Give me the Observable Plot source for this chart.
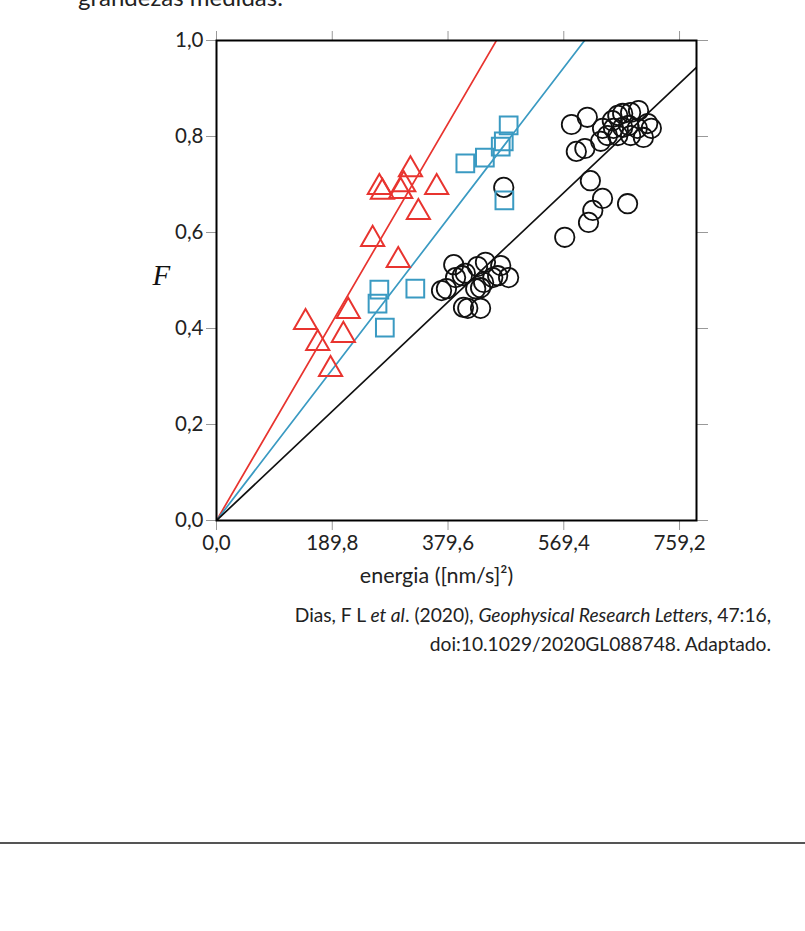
<!DOCTYPE html>
<html>
<head>
<meta charset="utf-8">
<script src="https://cdn.jsdelivr.net/npm/d3@7"></script>
<script src="https://cdn.jsdelivr.net/npm/@observablehq/plot@0.6"></script>
<style>
  html, body { margin: 0; padding: 0; background: #fff; }
  #wrap { position: relative; width: 805px; height: 931px; overflow: hidden; font-family: Lato, "Open Sans", sans-serif; color: #222; }
  #intro { position: absolute; left: 78px; top: -15px; font-size: 24px; line-height: 24px; white-space: nowrap; z-index: 2; }
  #chart { position: absolute; left: 0; top: 0; z-index: 1; }
  #caption { position: absolute; right: 34px; top: 600px; font-size: 19.2px; line-height: 29px; text-align: right; white-space: nowrap; z-index: 2; }
  #rule { position: absolute; left: 0; top: 842px; width: 805px; height: 2px; background: #555; }
</style>
</head>
<body>
<div id="wrap">
  <div id="chart"></div>
  <div id="intro">grandezas medidas.</div>
  <div id="caption">Dias, F L <i>et al</i>. (2020), <i>Geophysical Research Letters</i>, 47:16,<br>doi:10.1029/2020GL088748. Adaptado.</div>
  <div id="rule"></div>
</div>
<script>
// Triangles (red)
const triE = [146, 166, 187, 208, 216, 256, 267, 272, 298, 302, 307, 318, 331, 361];
const triF = [0.413, 0.369, 0.315, 0.386, 0.436, 0.586, 0.694, 0.684, 0.542, 0.686, 0.700, 0.731, 0.642, 0.694];
// Squares (blue)
const sqE = [264, 267, 276, 326, 408, 440, 466, 471, 479, 472];
const sqF = [0.452, 0.481, 0.402, 0.483, 0.744, 0.756, 0.779, 0.790, 0.823, 0.667];
// Circles (black)
const cirE = [582, 608, 590, 604, 630, 633, 649, 658, 666, 679, 692, 651, 666, 676, 690, 707, 713, 679, 700, 658, 641,
              613, 633, 617, 610, 674, 571, 471,
              389, 369, 377, 392, 403, 408, 428, 441, 466, 461, 479, 433, 425, 438, 405, 412, 433, 453];
const cirF = [0.825, 0.840, 0.769, 0.775, 0.790, 0.817, 0.833, 0.844, 0.848, 0.850, 0.854, 0.817, 0.819, 0.823, 0.817, 0.827, 0.817, 0.802, 0.798, 0.802, 0.802,
              0.708, 0.671, 0.646, 0.621, 0.660, 0.590, 0.694,
              0.533, 0.479, 0.483, 0.506, 0.510, 0.515, 0.529, 0.538, 0.531, 0.510, 0.506, 0.485, 0.483, 0.496, 0.444, 0.442, 0.442, 0.506];
// Fit line slopes (F per energy unit), through origin
const seriesNames = ["triangle", "square", "circle"];
const slopes = [1 / 459, 1 / 603.5, 1 / 833.7];
const colors = ["#e8342f", "#3a9ac2", "#111111"];
// Axes
const xTicks = [0, 189.8, 379.6, 569.4, 759.2];
const yTicks = [0, 0.2, 0.4, 0.6, 0.8, 1.0];
const xMax = 787;
const xLabel = "energia ([nm/s]²)";
const yLabel = "F";

const fmt = d => d.toFixed(1).replace(".", ",");
const tri = triE.map((e, i) => ({E: e, F: triF[i]}));
const sq = sqE.map((e, i) => ({E: e, F: sqF[i]}));
const cir = cirE.map((e, i) => ({E: e, F: cirF[i]}));
const lines = slopes.flatMap((k, i) => [{E: 0, F: 0, s: seriesNames[i]}, {E: xMax, F: xMax * k, s: seriesNames[i]}]);

const chart = Plot.plot({
  width: 805,
  height: 600,
  marginLeft: 216,
  marginRight: 109,
  marginTop: 40,
  marginBottom: 80,
  style: {fontFamily: "Lato, 'Open Sans', sans-serif", fontSize: "20.5px", color: "#222", background: "transparent"},
  x: {domain: [0, xMax]},
  y: {domain: [0, 1]},
  color: {domain: seriesNames, range: colors},
  marks: [
    Plot.line(lines, {x: "E", y: "F", z: "s", stroke: "s", strokeWidth: 1.7, clip: true}),
    Plot.dot(cir, {x: "E", y: "F", symbol: "circle", r: 9.7, stroke: colors[2], strokeWidth: 1.8, fill: "none"}),
    Plot.dot(sq, {x: "E", y: "F", symbol: "square", r: 10, stroke: colors[1], strokeWidth: 2, fill: "none"}),
    Plot.dot(tri, {x: "E", y: "F", symbol: "triangle", r: 8.6, stroke: colors[0], strokeWidth: 2, fill: "none"}),
    Plot.axisX({ticks: xTicks, tickFormat: fmt, tickSize: 10, tickPadding: 5, fontSize: 20.5, stroke: "#999", fill: "#222", label: null}),
    Plot.axisX({anchor: "top", ticks: xTicks, tickFormat: () => "", tickSize: 10, stroke: "#999", label: null}),
    Plot.axisY({ticks: yTicks, tickFormat: fmt, tickSize: 10, tickPadding: 3, fontSize: 20.5, stroke: "#999", fill: "#222", label: null}),
    Plot.axisY({anchor: "right", ticks: yTicks, tickFormat: () => "", tickSize: 11, stroke: "#999", label: null}),
    Plot.frame({stroke: "#000", strokeWidth: 2}),
    Plot.text([xLabel], {frameAnchor: "bottom", dx: -20, dy: 62, fontSize: 21.5, fill: "#222"}),
    Plot.text([yLabel], {frameAnchor: "left", dx: -64, dy: -5, fontSize: 29, fontStyle: "italic", fontFamily: "'Liberation Serif', serif", fill: "#111"})
  ]
});
document.getElementById("chart").appendChild(chart);
</script>
</body>
</html>
